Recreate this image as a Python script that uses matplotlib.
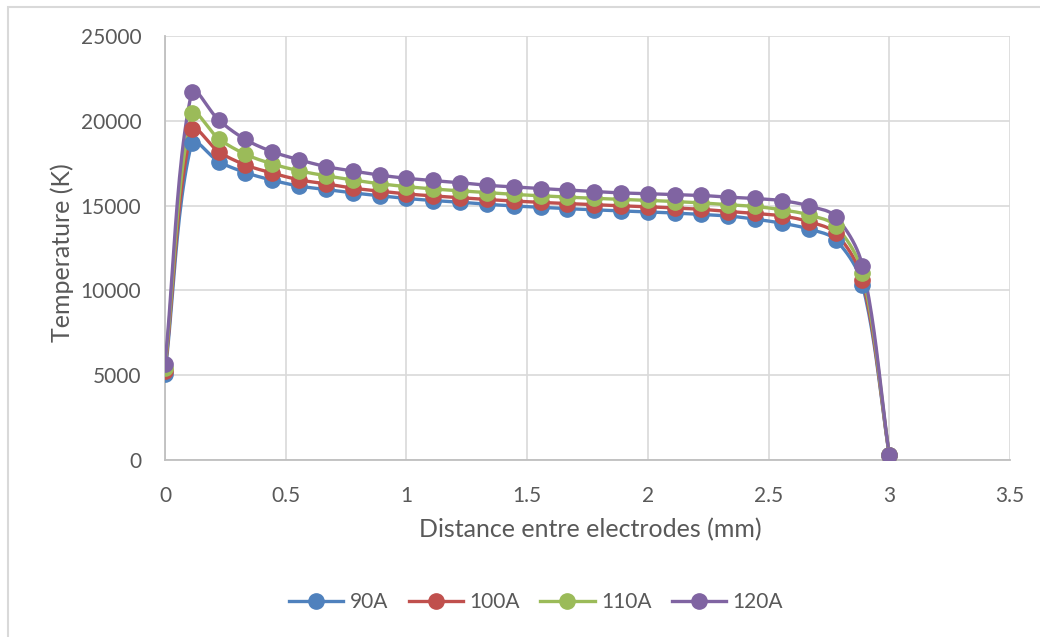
import numpy as np
import matplotlib
matplotlib.use('Agg')
import matplotlib.pyplot as plt
from matplotlib.patches import Rectangle

# distance between electrodes (mm), 28 points from 0 to 3
x = [0, 0.111, 0.222, 0.333, 0.444, 0.556, 0.667, 0.778, 0.889, 1.0,
     1.111, 1.222, 1.333, 1.444, 1.556, 1.667, 1.778, 1.889, 2.0,
     2.111, 2.222, 2.333, 2.444, 2.556, 2.667, 2.778, 2.889, 3.0]

t90 = [5050, 18700, 17600, 16950, 16500, 16150, 15950, 15750, 15580, 15420,
       15300, 15200, 15080, 14980, 14900, 14820, 14750, 14690, 14630,
       14560, 14480, 14390, 14200, 13960, 13620, 12980, 10330, 300]
t100 = [5250, 19500, 18180, 17400, 16920, 16520, 16280, 16030, 15850, 15690,
        15570, 15470, 15360, 15270, 15190, 15120, 15050, 14990, 14930,
        14860, 14780, 14650, 14540, 14390, 14050, 13370, 10620, 300]
t110 = [5450, 20440, 18950, 18030, 17460, 17050, 16760, 16510, 16290, 16120,
        15980, 15870, 15760, 15660, 15580, 15500, 15430, 15370, 15310,
        15240, 15160, 15050, 14950, 14750, 14450, 13800, 11000, 300]
t120 = [5650, 21720, 20050, 18900, 18180, 17700, 17300, 17040, 16800, 16610,
        16480, 16350, 16200, 16100, 16000, 15920, 15830, 15750, 15700,
        15650, 15600, 15500, 15420, 15290, 14980, 14350, 11440, 300]

series = [('90A', t90, '#4F81BD'), ('100A', t100, '#C0504D'),
          ('110A', t110, '#9BBB59'), ('120A', t120, '#8064A2')]

xticks = [0, 0.5, 1, 1.5, 2, 2.5, 3, 3.5]
xticklabels = ['0', '0.5', '1', '1.5', '2', '2.5', '3', '3.5']
yticks = [0, 5000, 10000, 15000, 20000, 25000]


def smooth(ax, xs, ys, n=24):
    # bezier smoothing like excel, tangents scaled by chord lengths in pixels
    pts = ax.transData.transform(np.column_stack([xs, ys]))
    P = np.vstack([pts[0], pts, pts[-1]])
    out = []
    for i in range(1, len(P) - 2):
        p0, p1, p2, p3 = P[i - 1], P[i], P[i + 1], P[i + 2]
        d01 = np.hypot(*(p1 - p0))
        d12 = np.hypot(*(p2 - p1))
        d23 = np.hypot(*(p3 - p2))
        t1 = (p2 - p0) * (d12 / (d01 + d12) if d01 + d12 > 0 else 0)
        t2 = (p3 - p1) * (d12 / (d12 + d23) if d12 + d23 > 0 else 0)
        c1 = p1 + t1 / 3.0
        c2 = p2 - t2 / 3.0
        s = np.linspace(0, 1, n)[:, None]
        b = ((1 - s) ** 3) * p1 + 3 * ((1 - s) ** 2) * s * c1 + 3 * (1 - s) * s ** 2 * c2 + s ** 3 * p2
        out.append(b)
    out = ax.transData.inverted().transform(np.vstack(out))
    return out[:, 0], out[:, 1]


plt.rcParams['font.family'] = ['Lato', 'DejaVu Sans']
txt = '#595959'

fig = plt.figure(figsize=(10.4, 6.37), dpi=100)
ax = fig.add_axes([165 / 1040., 1 - 460 / 637., 845 / 1040., 424 / 637.])
ax.set_xlim(0, 3.5)
ax.set_ylim(0, 25000)

for name, ys, col in series:
    sx, sy = smooth(ax, x, ys)
    ax.plot(sx, sy, color=col, lw=2.4, solid_capstyle='round', zorder=3)
    ax.plot(x, ys, 'o', color=col, ms=11, zorder=4)
    ax.plot([], [], '-o', color=col, lw=2.4, ms=11, label=name)

ax.set_xticks(xticks)
ax.set_xticklabels(xticklabels)
ax.set_yticks(yticks)
ax.grid(True, color='#D9D9D9', lw=1.2)
ax.set_axisbelow(True)
for s in ['top', 'right']:
    ax.spines[s].set_visible(False)
for s in ['left', 'bottom']:
    ax.spines[s].set_color('#BFBFBF')
    ax.spines[s].set_linewidth(1.3)
ax.tick_params(length=0, labelsize=15, labelcolor=txt, pad=17)
ax.tick_params(axis='x', pad=19)

fig.text(590 / 1040., 1 - 530 / 637., 'Distance entre electrodes (mm)',
         fontsize=18, color=txt, ha='center', va='center')
fig.text(62 / 1040., 1 - 253 / 637., 'Temperature (K)', rotation=90,
         fontsize=18, color=txt, ha='center', va='center')

fig.legend(loc='center', bbox_to_anchor=(536 / 1040., 1 - 602 / 637.), ncol=4,
           frameon=False, fontsize=15, labelcolor=txt, handlelength=2.6,
           columnspacing=1.0, handletextpad=0.3)

fig.patches.append(Rectangle((8 / 1040., -0.1), 1.2, 1 - 7 / 637. + 0.1,
                             transform=fig.transFigure, fill=False,
                             edgecolor='#D9D9D9', lw=1.5))

plt.savefig('out.png', dpi=100)
